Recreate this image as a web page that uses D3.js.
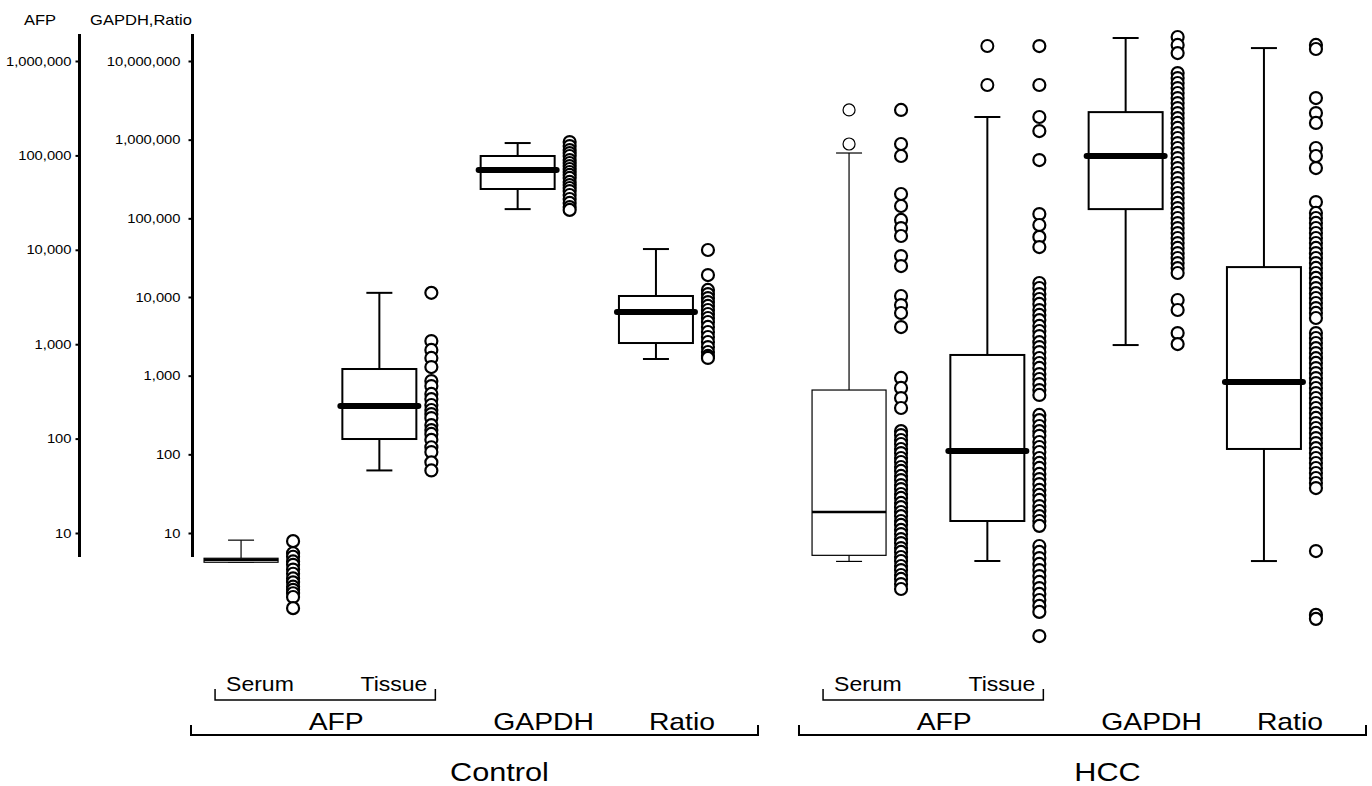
<!DOCTYPE html>
<html>
<head>
<meta charset="utf-8">
<script src="https://cdn.jsdelivr.net/npm/d3@7"></script>
<style>
body { margin: 0; background: #fff; }
text { font-family: Arial, "Liberation Sans", sans-serif; fill: #000; }
</style>
</head>
<body>
<div id="chart"></div>
<script>
// categories
var groups = ['Control', 'HCC'];
var measures = ['Serum', 'Tissue', 'GAPDH', 'Ratio'];
var afpTicks = [10, 100, 1000, 10000, 100000, 1000000];
var ratioTicks = [10, 100, 1000, 10000, 100000, 1000000, 10000000];

// box stats: [lower whisker, q1, median, q3, upper whisker]
var controlSerumStats = [4.9, 4.9, 5.2, 5.4, 8.4];
var controlTissueStats = [46, 99, 221, 546, 3500];
var controlGapdhStats = [131000, 236000, 411000, 620000, 906000];
var controlRatioStats = [1630, 2600, 6440, 10300, 40700];
var hccSerumStats = [5.0, 5.8, 16.7, 327, 106000];
var hccTissueStats = [5.05, 13.4, 74, 769, 255000];
var hccGapdhStats = [2450, 131000, 619000, 2240000, 19600000];
var hccRatioStats = [4.4, 117, 830, 24000, 14600000];

// outliers drawn on the box itself
var hccSerumOutliers = [303000, 132000];
var hccTissueOutliers = [1440000, 557000];

// individual values
var controlSerumPts = [8.2, 6.1, 5.6, 5.0, 4.6, 4.1, 3.7, 3.3, 3.0, 2.7, 2.5, 2.3, 2.1, 1.6];
var controlTissuePts = [3500, 1080, 870, 715, 573, 407, 360, 297, 262, 227, 201, 182, 165, 139, 123, 112, 97, 81, 72, 56, 46];
var controlGapdhPts = [933000, 830000, 738000, 676000, 620000, 551000, 505000, 462000, 424000, 388000, 356000,
  326000, 290000, 265000, 243000, 222000, 198000, 176000, 157000, 139000, 128000];
var controlRatioPts = [39600, 19000, 12300, 10900, 9700, 8630, 7690, 6840, 6080, 5410, 4810, 4160, 3590, 3100,
  2680, 2310, 2000, 1780, 1680];
var hccSerumPts = [303000, 132000, 98600, 39000, 29100, 20700, 17000, 14000, 8590, 6730, 3240, 2600, 2140, 1520,
  439, 344, 269, 211, 120, 109, 96.6, 87.7, 77.6, 70.3, 62.3, 56.5, 50.0, 45.4, 40.2, 36.4, 32.2, 29.2, 25.9,
  23.5, 20.8, 18.8, 16.7, 15.1, 13.4, 12.2, 10.8, 9.75, 8.63, 7.83, 6.93, 6.30, 5.57, 5.05, 4.47, 4.05, 3.59,
  3.26, 2.88, 2.55];
var hccTissuePts = [1440000, 557000, 255000, 181000, 89300, 23900, 18300, 13700, 10700, 4450, 3940, 3400, 3010,
  2670, 2300, 2040, 1800, 1560, 1380, 1220, 1050, 933, 826, 714, 632, 560, 483, 428, 378, 327, 290, 178, 157,
  136, 120, 107, 92, 81.5, 72.1, 62.3, 55.2, 48.9, 42.2, 37.3, 33.0, 28.6, 25.3, 22.4, 19.3, 17.1, 15.1, 13.4,
  11.9, 7.28, 6.30, 5.43, 4.70, 4.05, 3.50, 3.03, 2.61, 2.26, 1.95, 1.69, 1.46, 0.81];
var hccGapdhPts = [20200000, 16000000, 12600000, 7030000, 6070000, 5250000, 4530000, 3920000, 3380000, 2920000,
  2520000, 2180000, 1880000, 1630000, 1410000, 1210000, 1050000, 906000, 783000, 676000, 584000, 505000, 436000,
  377000, 325000, 281000, 243000, 210000, 181000, 157000, 135000, 117000, 101000, 87100, 75300, 65000, 56200,
  48500, 42000, 36200, 31300, 27000, 23300, 20200, 9160, 6840, 3480, 2520];
var hccRatioPts = [16000000, 14200000, 3380000, 2180000, 1630000, 783000, 620000, 436000, 161000, 117000, 101000,
  87300, 75400, 65100, 56200, 48600, 42000, 36200, 31300, 27000, 23400, 20200, 17500, 15100, 13000, 11200, 9710,
  8390, 7240, 6270, 5410, 3480, 3010, 2600, 2240, 1940, 1670, 1450, 1250, 1080, 933, 805, 697, 601, 520, 449,
  388, 335, 290, 250, 216, 187, 161, 139, 120, 104, 89.8, 77.6, 67.0, 57.9, 50.0, 43.2, 37.3, 5.90, 0.91, 0.81];

var series = [
  { group: 'Control', measure: 'Serum', stats: controlSerumStats, pts: controlSerumPts, out: [], thin: true },
  { group: 'Control', measure: 'Tissue', stats: controlTissueStats, pts: controlTissuePts, out: [] },
  { group: 'Control', measure: 'GAPDH', stats: controlGapdhStats, pts: controlGapdhPts, out: [] },
  { group: 'Control', measure: 'Ratio', stats: controlRatioStats, pts: controlRatioPts, out: [] },
  { group: 'HCC', measure: 'Serum', stats: hccSerumStats, pts: hccSerumPts, out: hccSerumOutliers, thin: true },
  { group: 'HCC', measure: 'Tissue', stats: hccTissueStats, pts: hccTissuePts, out: hccTissueOutliers },
  { group: 'HCC', measure: 'GAPDH', stats: hccGapdhStats, pts: hccGapdhPts, out: [] },
  { group: 'HCC', measure: 'Ratio', stats: hccRatioStats, pts: hccRatioPts, out: [] }
];

var W = 1372, H = 786, S = 1.18;
var svg = d3.select('#chart').append('svg').attr('width', W).attr('height', H);

var yAfp = d3.scaleLog().domain([10, 1e6]).range([533, 61]);
var yRatio = d3.scaleLog().domain([10, 1e7]).range([533, 61]);
var xGroup = d3.scaleBand().domain(groups).range([191, 1366]).paddingInner(0.0674);
var xMeasure = d3.scalePoint().domain(measures).range([0, xGroup.bandwidth()]).padding(0.55);

function slot(g, m) { return xGroup(g) + xMeasure(m); }
function yFor(m) { return (m === 'Serum' || m === 'Tissue') ? yAfp : yRatio; }

// text is slightly wide in the original, so stretch it horizontally
function label(str, x, y, size, anchor) {
  return svg.append('text')
    .attr('transform', 'translate(' + x + ',' + y + ') scale(' + S + ',1)')
    .attr('text-anchor', anchor || 'middle')
    .style('font-size', size + 'px')
    .text(str);
}

function drawAxis(scale, x, ticks, pad) {
  var g = svg.append('g').attr('transform', 'translate(' + x + ',0)');
  g.call(d3.axisLeft(scale).tickValues(ticks).tickFormat(d3.format(',')).tickSize(4).tickPadding(pad));
  g.attr('font-family', null).attr('font-size', null);
  g.select('.domain').remove();
  g.selectAll('.tick line').attr('stroke-width', 2);
  g.selectAll('.tick text').style('font-size', '12.5px').each(function() {
    var t = d3.select(this);
    var tx = +t.attr('x');
    t.attr('x', 0).attr('transform', 'translate(' + tx + ',0) scale(' + S + ',1)');
  });
  g.append('line').attr('y1', 34).attr('y2', 557).attr('stroke', '#000').attr('stroke-width', 3);
}

drawAxis(yAfp, 79.5, afpTicks, 4);
drawAxis(yRatio, 192.5, ratioTicks, 8);
label('AFP', 40, 25, 14);
label('GAPDH,Ratio', 141, 25, 14);

series.forEach(function(s) {
  var y = yFor(s.measure);
  var cx = slot(s.group, s.measure) - 26;
  var px = slot(s.group, s.measure) + 26;
  var st = s.stats;
  var lw = s.thin ? 1.2 : 2;
  var half = 37, cap = 13;
  var g = svg.append('g').attr('stroke', '#000').attr('fill', 'none');

  g.append('line').attr('x1', cx).attr('x2', cx).attr('y1', y(st[4])).attr('y2', y(st[3])).attr('stroke-width', lw);
  g.append('line').attr('x1', cx).attr('x2', cx).attr('y1', y(st[1])).attr('y2', y(st[0])).attr('stroke-width', lw);
  g.append('line').attr('x1', cx - cap).attr('x2', cx + cap).attr('y1', y(st[4])).attr('y2', y(st[4])).attr('stroke-width', lw);
  g.append('line').attr('x1', cx - cap).attr('x2', cx + cap).attr('y1', y(st[0])).attr('y2', y(st[0])).attr('stroke-width', lw);
  g.append('rect').attr('x', cx - half).attr('width', half * 2)
    .attr('y', y(st[3])).attr('height', y(st[1]) - y(st[3]))
    .attr('fill', '#fff').attr('stroke-width', lw);
  g.append('line').attr('x1', cx - half - (s.thin ? 0 : 2)).attr('x2', cx + half + (s.thin ? 0 : 2))
    .attr('y1', y(st[2])).attr('y2', y(st[2]))
    .attr('stroke-width', s.thin ? 2.5 : 6).attr('stroke-linecap', s.thin ? 'butt' : 'round');

  g.selectAll('circle.out').data(s.out).enter().append('circle')
    .attr('class', 'out').attr('cx', cx).attr('cy', function(d) { return y(d); })
    .attr('r', 6).attr('fill', '#fff').attr('stroke-width', s.thin ? 1.2 : 2);

  g.selectAll('circle.pt').data(s.pts).enter().append('circle')
    .attr('class', 'pt').attr('cx', px).attr('cy', function(d) { return y(d); })
    .attr('r', 6).attr('fill', '#fff').attr('stroke-width', 2.2);
});

// category brackets and labels
groups.forEach(function(gr) {
  var x0 = xGroup(gr), x1 = x0 + xGroup.bandwidth();
  var sx = slot(gr, 'Serum'), tx = slot(gr, 'Tissue');
  var b0 = sx - 52, b1 = tx + 30;

  svg.append('path').attr('d', 'M' + b0 + ',689V700H' + b1 + 'V689')
    .attr('fill', 'none').attr('stroke', '#000').attr('stroke-width', 1.5);
  label('Serum', b0 + 11, 691, 19.5, 'start');
  label('Tissue', b1 - 8, 691, 19.5, 'end');

  label('AFP', (sx + tx) / 2, 730, 24);
  label('GAPDH', slot(gr, 'GAPDH'), 730, 24);
  label('Ratio', slot(gr, 'Ratio'), 730, 24);

  svg.append('path').attr('d', 'M' + x0 + ',725V735H' + x1 + 'V725')
    .attr('fill', 'none').attr('stroke', '#000').attr('stroke-width', 2);
  label(gr, (x0 + x1) / 2 + 25, 781, 26);
});
</script>
</body>
</html>
